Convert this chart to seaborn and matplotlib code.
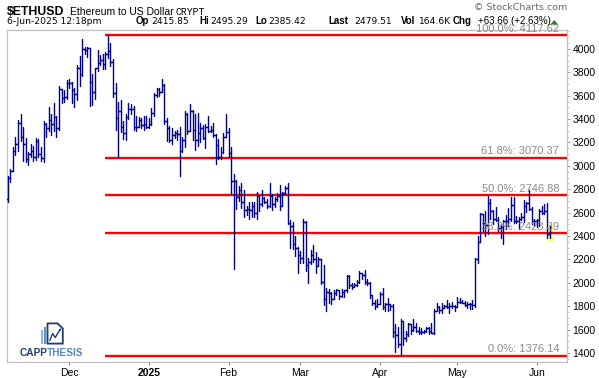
import numpy as np
import pandas as pd
import matplotlib
matplotlib.use("Agg")
import matplotlib.pyplot as plt
import matplotlib.dates as mdates
import matplotlib.transforms as mtransforms
from matplotlib.patches import Rectangle, Polygon
import seaborn as sns

# ---------------- data (daily OHLC, 7-Nov-2024 .. 6-Jun-2025) ----------------
start_date = "2024-11-07"

open_ = [
    # Nov
    2720, 2895, 2960, 3130, 3185, 3370, 3245, 3185, 3060, 3100, 3130, 3080, 3210, 3105, 3070, 3355,
    3325, 3395, 3360, 3415, 3320, 3655, 3580, 3590,
    # Dec
    3705, 3710, 3645, 3615, 3835, 3785, 4000, 3995, 4005, 3715, 3630, 3835, 3880, 3905, 3870, 3960,
    3985, 3890, 3625, 3410, 3470, 3330, 3280, 3420, 3490, 3490, 3330, 3335, 3395, 3350, 3360,
    # Jan
    3330, 3355, 3450, 3610, 3655, 3635, 3690, 3380, 3325, 3220, 3265, 3280, 3270, 3130, 3220, 3440,
    3300, 3470, 3305, 3220, 3280, 3320, 3240, 3330, 3300, 3310, 3260, 3180, 3080, 3115, 3250,
    # Feb
    3290, 3110, 2870, 2870, 2730, 2790, 2690, 2625, 2635, 2625, 2660, 2600, 2740, 2675, 2725, 2690,
    2660, 2745, 2670, 2715, 2740, 2660, 2765, 2815, 2510, 2490, 2335, 2300,
    # Mar
    2235, 2215, 2520, 2150, 2180, 2240, 2200, 2140, 2200, 2010, 1865, 1920, 1910, 1865, 1910, 1935,
    1885, 1925, 1935, 2060, 1980, 1965, 1980, 2010, 2080, 2070, 2010, 2000, 1895, 1830, 1805,
    # Apr
    1820, 1905, 1795, 1815, 1815, 1805, 1580, 1555, 1475, 1670, 1525, 1565, 1645, 1595, 1625, 1590,
    1580, 1580, 1590, 1615, 1590, 1575, 1755, 1795, 1770, 1785, 1800, 1790, 1800, 1800,
    # May
    1795, 1840, 1840, 1830, 1810, 1815, 1815, 1810, 2205, 2345, 2585, 2515, 2495, 2680, 2610, 2545,
    2540, 2470, 2480, 2525, 2525, 2550, 2665, 2530, 2530, 2550, 2560, 2660, 2680, 2630, 2530,
    # Jun
    2525, 2540, 2610, 2595, 2610, 2415.85,
]

high = [
    2910, 2970, 3160, 3245, 3390, 3445, 3330, 3240, 3120, 3190, 3170, 3235, 3230, 3160, 3380, 3370,
    3500, 3440, 3540, 3430, 3680, 3660, 3645, 3735,
    3745, 3720, 3670, 3860, 3940, 4085, 4020, 4015, 4010, 3790, 3840, 3990, 3945, 3960, 3975, 4117.62,
    4050, 3910, 3710, 3545, 3560, 3380, 3440, 3535, 3530, 3510, 3425, 3420, 3410, 3430, 3425,
    3410, 3495, 3620, 3670, 3670, 3745, 3700, 3410, 3340, 3320, 3300, 3310, 3330, 3250, 3470, 3450,
    3525, 3480, 3440, 3450, 3365, 3350, 3360, 3430, 3345, 3365, 3275, 3230, 3165, 3285, 3440,
    3325, 3160, 2930, 2880, 2830, 2850, 2790, 2660, 2690, 2690, 2690, 2780, 2740, 2790, 2735, 2720,
    2850, 2760, 2730, 2770, 2840, 2780, 2830, 2850, 2540, 2520, 2400, 2310,
    2275, 2550, 2525, 2210, 2280, 2320, 2260, 2220, 2200, 2150, 1960, 1950, 1925, 1935, 1950, 1940,
    1950, 1935, 2070, 2070, 1995, 2000, 2025, 2100, 2080, 2110, 2035, 2010, 1900, 1850, 1865,
    1920, 1955, 1830, 1870, 1820, 1815, 1650, 1620, 1690, 1670, 1585, 1660, 1650, 1690, 1660, 1620,
    1610, 1600, 1620, 1620, 1660, 1780, 1830, 1800, 1830, 1810, 1855, 1825, 1840, 1810,
    1875, 1870, 1850, 1845, 1835, 1830, 1855, 2215, 2400, 2600, 2590, 2615, 2740, 2720, 2620, 2650,
    2560, 2500, 2540, 2580, 2640, 2735, 2735, 2575, 2560, 2600, 2710, 2690, 2790, 2650, 2545,
    2545, 2630, 2660, 2675, 2680, 2495.29,
]

low = [
    2690, 2860, 2955, 3090, 3130, 3215, 3040, 3030, 3010, 3080, 3040, 3050, 3080, 3040, 3030, 3250,
    3300, 3260, 3300, 3250, 3310, 3540, 3550, 3575,
    3670, 3535, 3500, 3565, 3680, 3770, 3960, 3930, 3510, 3520, 3570, 3810, 3860, 3825, 3830, 3920,
    3855, 3590, 3310, 3080, 3290, 3230, 3220, 3400, 3440, 3310, 3300, 3330, 3320, 3310, 3320,
    3320, 3350, 3430, 3590, 3600, 3630, 3360, 3210, 3200, 3190, 3235, 3225, 2910, 3120, 3160, 3270,
    3300, 3220, 3140, 3170, 3200, 3230, 3150, 3290, 3290, 3250, 3020, 3060, 3060, 3110, 3250,
    3080, 2760, 2120, 2630, 2700, 2640, 2560, 2580, 2550, 2560, 2560, 2550, 2610, 2660, 2680, 2640,
    2650, 2620, 2650, 2700, 2620, 2655, 2760, 2500, 2300, 2290, 2230, 2080,
    2170, 2170, 2100, 1995, 2160, 2180, 2080, 2140, 1990, 1810, 1760, 1830, 1820, 1860, 1900, 1865,
    1880, 1880, 1925, 1960, 1950, 1965, 1975, 2000, 2030, 1990, 1980, 1870, 1810, 1780, 1795,
    1815, 1775, 1760, 1760, 1770, 1540, 1410, 1450, 1376.14, 1470, 1505, 1545, 1560, 1590, 1580, 1560,
    1565, 1575, 1580, 1565, 1570, 1560, 1755, 1740, 1745, 1785, 1785, 1745, 1785, 1755,
    1790, 1830, 1825, 1805, 1785, 1780, 1780, 1795, 2170, 2345, 2445, 2400, 2415, 2550, 2500, 2530,
    2445, 2380, 2330, 2460, 2490, 2525, 2515, 2515, 2460, 2535, 2520, 2605, 2620, 2500, 2490,
    2475, 2490, 2585, 2585, 2385, 2385.42,
]

close = [
    2895, 2960, 3130, 3185, 3370, 3245, 3185, 3060, 3100, 3130, 3080, 3210, 3105, 3070, 3355, 3325,
    3395, 3360, 3415, 3320, 3655, 3580, 3590, 3705,
    3710, 3645, 3615, 3835, 3785, 4000, 3995, 4005, 3715, 3630, 3835, 3880, 3905, 3870, 3960, 3985,
    3890, 3625, 3410, 3470, 3330, 3280, 3420, 3490, 3490, 3330, 3335, 3395, 3350, 3360, 3330,
    3355, 3450, 3610, 3655, 3635, 3690, 3380, 3325, 3220, 3265, 3280, 3270, 3130, 3220, 3440, 3300,
    3470, 3305, 3220, 3280, 3320, 3240, 3330, 3300, 3310, 3260, 3180, 3080, 3115, 3250, 3290,
    3110, 2870, 2870, 2730, 2790, 2690, 2625, 2635, 2625, 2660, 2600, 2740, 2675, 2725, 2690, 2660,
    2745, 2670, 2715, 2740, 2660, 2765, 2815, 2510, 2490, 2335, 2300, 2235,
    2215, 2520, 2150, 2180, 2240, 2200, 2140, 2200, 2010, 1865, 1920, 1910, 1865, 1910, 1935, 1885,
    1925, 1935, 2060, 1980, 1965, 1980, 2010, 2080, 2070, 2010, 2000, 1895, 1830, 1805, 1820,
    1905, 1795, 1815, 1815, 1805, 1580, 1555, 1475, 1670, 1525, 1565, 1645, 1595, 1625, 1590, 1580,
    1580, 1590, 1615, 1590, 1575, 1755, 1795, 1770, 1785, 1800, 1790, 1800, 1800, 1795,
    1840, 1840, 1830, 1810, 1815, 1815, 1810, 2205, 2345, 2585, 2515, 2495, 2680, 2610, 2545, 2540,
    2470, 2480, 2525, 2525, 2550, 2665, 2530, 2530, 2550, 2560, 2660, 2680, 2630, 2530, 2525,
    2540, 2610, 2595, 2610, 2415.85, 2479.51,
]

fib_labels = ["100.0%", "61.8%", "50.0%", "38.2%", "0.0%"]
fib_values = [4117.62, 3070.37, 2746.88, 2423.39, 1376.14]
fib_start = "2024-12-15"

month_ticks = ["2024-12-01", "2025-01-01", "2025-02-01", "2025-03-01",
               "2025-04-01", "2025-05-01", "2025-06-01"]
month_labels = ["Dec", "2025", "Feb", "Mar", "Apr", "May", "Jun"]
y_ticks = list(range(1400, 4001, 200))

# header values
title_sym = "$ETHUSD"
title_name = "Ethereum to US Dollar"
title_exch = "CRYPT"
stamp = "6-Jun-2025 12:18pm"
quote_keys = ["Op", "Hi", "Lo", "Last", "Vol", "Chg"]
quote_vals = ["2415.85", "2495.29", "2385.42", "2479.51", "164.6K", "+63.66 (+2.63%)"]

# ---------------- styling ----------------
sns.set_theme(style="white")
plt.rcParams["font.family"] = ["Liberation Sans", "DejaVu Sans"]

NAVY = "#00008f"
W, H = 599, 378
fig = plt.figure(figsize=(W / 100, H / 100), dpi=100)
fig.patch.set_facecolor("white")
ax = fig.add_axes([7 / W, 1 - 362 / H, (567 - 7) / W, (362 - 30) / H])
ax.set_facecolor("white")

dates = pd.date_range(start_date, periods=len(close), freq="D")
xn = mdates.date2num(dates)

rows = []
tick = 0.6
for i, (d, o, h, l, c) in enumerate(zip(xn, open_, high, low, close)):
    rows += [(3 * i, d, l), (3 * i, d, h),
             (3 * i + 1, d - tick, o), (3 * i + 1, d, o),
             (3 * i + 2, d, c), (3 * i + 2, d + tick, c)]
df = pd.DataFrame(rows, columns=["seg", "x", "price"])

# yellow highlight of the last bar
ax.add_patch(Rectangle((xn[-1] - 0.75, 2358), 2.3, 127, facecolor="#ffff66",
                       edgecolor="none", zorder=1))

sns.lineplot(data=df, x="x", y="price", units="seg", estimator=None, sort=False,
             color=NAVY, lw=1.0, ax=ax, legend=False, zorder=3)

# fibonacci lines
x0 = mdates.date2num(pd.Timestamp(fib_start))
x_left = xn[0] - 0.26
x_right = xn[0] + 217.8
ax.hlines(fib_values, x0, x_right, colors="#ff0000", lw=1.7, zorder=2)
trans = mtransforms.blended_transform_factory(ax.transAxes, ax.transData)
for lab, v in zip(fib_labels, fib_values):
    ax.text(0.986, v + 30, f"{lab}: {v:.2f}", transform=trans, ha="right",
            va="baseline", fontsize=8, color="#8a8a8a", zorder=4, clip_on=False)

ax.set_xlim(x_left, x_right)
ax.set_ylim(1323, 4162)
ax.set_xlabel("")
ax.set_ylabel("")

ax.set_xticks(mdates.date2num(pd.to_datetime(month_ticks)))
ax.set_xticklabels(month_labels)
for t in ax.get_xticklabels():
    if t.get_text() == "2025":
        t.set_fontweight("bold")
ax.set_yticks(y_ticks)
ax.set_yticklabels([str(v) for v in y_ticks])
ax.yaxis.set_minor_locator(matplotlib.ticker.MultipleLocator(50))
ax.yaxis.tick_right()
ax.tick_params(axis="x", which="major", bottom=True, direction="out", length=2.5,
               width=0.7, color="#777777", pad=1.5, labelsize=7.5, labelcolor="black")
ax.tick_params(axis="y", which="major", right=True, left=False, labelright=True,
               labelleft=False, direction="out", length=2.5, width=0.7,
               color="#999999", pad=1.5, labelsize=7.5, labelcolor="black")
ax.tick_params(axis="y", which="minor", right=True, left=False, direction="out",
               length=1.3, width=0.6, color="#bbbbbb")
for sp in ax.spines.values():
    sp.set_visible(True)
    sp.set_color("#c0c0c0")
    sp.set_linewidth(0.9)

# ---------------- overlay (header + logo), in pixel coordinates ----------------
ov = fig.add_axes([0, 0, 1, 1], zorder=5)
ov.set_xlim(0, W)
ov.set_ylim(H, 0)
ov.axis("off")
ov.patch.set_alpha(0)

ov.text(7, 15.2, title_sym, fontsize=8.8, fontweight="bold", va="baseline", color="black")
ov.text(70, 15.2, title_name, fontsize=7.5, va="baseline", color="black")
ov.text(175, 15.2, title_exch, fontsize=7, va="baseline", color="black",
        family=["Liberation Mono", "DejaVu Sans Mono"])
ov.text(7, 24.5, stamp, fontsize=6.6, va="baseline", color="black", family=["DejaVu Sans"])

key_x = [136, 199.5, 255.5, 328.5, 400.5, 453]
val_x = [151, 210, 268.5, 354, 419, 478]
for k, kx, v, vx in zip(quote_keys, key_x, quote_vals, val_x):
    ov.text(kx, 24.5, k, fontsize=7, fontweight="bold", va="baseline", color="black")
    fs, fam = (7.0, ["Liberation Sans"]) if k == "Chg" else (6.6, ["DejaVu Sans"])
    ov.text(vx, 24.5, v, fontsize=fs, va="baseline", color="black", family=fam)
ov.add_patch(Polygon([(550.5, 24.5), (558, 24.5), (554.2, 20)], closed=True,
                     facecolor="#2e7d32", edgecolor="none"))
ov.text(567, 9.5, "\u00a9 StockCharts.com", fontsize=6.8, ha="right", va="baseline",
        color="#666666", family=["DejaVu Sans"])

# CAPPTHESIS logo
ov.add_patch(Rectangle((40.7, 330), 2.2, 14, facecolor="#8ab8e6", edgecolor="none"))
ov.add_patch(Rectangle((43.6, 326.5), 2.2, 17.5, facecolor="#5b95d0", edgecolor="none"))
ov.add_patch(Polygon([(47.5, 343.6), (62.8, 343.6), (62.8, 328.5), (57.5, 323.4), (47.5, 323.4)],
                     closed=True, facecolor="white", edgecolor="#1f3a70", lw=1.3))
ov.plot([49.8, 52.6, 55.2, 60.2], [340.5, 333.5, 337.5, 329.5], color="#1f3a70", lw=1.0)
ov.add_patch(Polygon([(61.2, 328.3), (58.4, 329.2), (60.6, 331.2)], closed=True,
                     facecolor="#1f3a70", edgecolor="none"))
ov.text(19.3, 355.7, "CAPP", fontsize=7.3, fontweight="bold", va="baseline", color="#22406f")
ov.text(47.2, 355.7, "THESIS", fontsize=7.3, fontweight="bold", va="baseline", color="#5a86bd")

fig.savefig("out.png", dpi=100, facecolor="white")
